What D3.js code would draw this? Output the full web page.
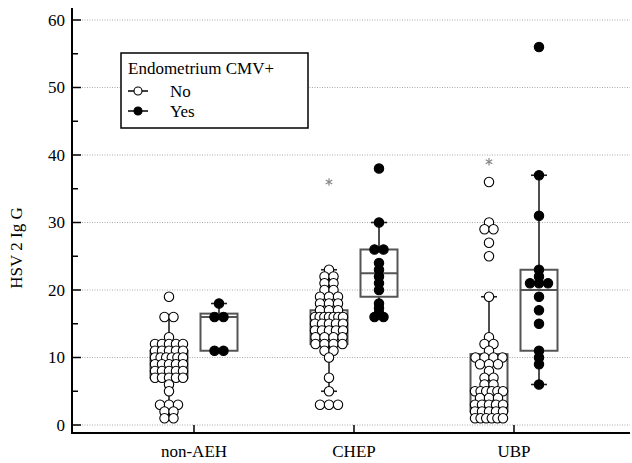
<!DOCTYPE html>
<html><head><meta charset="utf-8">
<script src="https://cdn.jsdelivr.net/npm/d3@7"></script>
<style>body{margin:0;background:#fff}</style>
</head><body><svg id="c" width="632" height="463" font-family="'Liberation Serif', 'DejaVu Serif', serif"></svg>
<script>
const categories = ["non-AEH","CHEP","UBP"];
const groups = ["No","Yes"];
const yTicks = [0,10,20,30,40,50,60];
const yMinorTicks = [5,15,25,35,45,55];
// dot values per box (order: non-AEH No, non-AEH Yes, CHEP No, CHEP Yes, UBP No, UBP Yes)
const nonAEH_No = [19,16,16,13,12,12,12,12,12,11,11,11,11,11,10,10,10,10,10,10,9,9,9,9,9,8,8,8,8,8,7,7,7,7,7,6,5,3,3,3,2,2,1,1];
const nonAEH_Yes = [18,16,16,11,11];
const CHEP_No = [23,22,22,21,21,20,20,19,19,19,18,18,18,17,17,17,16,16,16,16,16,16,16,15,15,15,15,15,14,14,14,14,14,13,13,13,13,12,12,12,12,11,11,10,7,5,3,3,3];
const CHEP_Yes = [38,30,26,26,24,23,22,21,20,18,17.3,16.6,16,16];
const UBP_No = [36,30,29,29,27,25,19,13,12,12,11,10,10,10,10,9,9,9,8,7,7,6,6,5,5,5,5,5,5,4,4,4,3,3,3,3,3,2,2,2,2,2,1,1,1,1,1,1];
const UBP_Yes = [56,37,31,23,22,21,21,21,19,17,15,11,10,9,6];
// box statistics
const boxQ1 =      [7, 11, 12, 19, 2, 11];
const boxMedian =  [9, 16, 15.2, 22.5, 5.3, 20];
const boxQ3 =      [11, 16.5, 17, 26, 10.5, 23];
const whiskerLow = [1, 11, 5, 16, 1, 6];
const whiskerHigh =[16, 18, 23, 30, 19, 37];
const extremes =   [null, null, 36, null, 39, null];

const dotSets = [nonAEH_No, nonAEH_Yes, CHEP_No, CHEP_Yes, UBP_No, UBP_Yes];
const series = [];
categories.forEach((c,ci)=>groups.forEach((g,gi)=>{
  const k = ci*2+gi;
  series.push({cat:c, grp:g, values:dotSets[k], q1:boxQ1[k], med:boxMedian[k], q3:boxQ3[k], lo:whiskerLow[k], hi:whiskerHigh[k], ext:extremes[k]});
}));

const FONT = "'Liberation Serif', 'DejaVu Serif', serif";
const svg = d3.select("#c");
const L = 72, R = 630, T = 8, B = 433;
const y = d3.scaleLinear().domain([0,60]).range([425,20]);
const x = d3.scaleBand().domain(categories).range([114,594]);
const xs = d3.scalePoint().domain(groups).range([-25,25]);
const cx = d => x(d.cat) + x.bandwidth()/2 + xs(d.grp);

// grid
svg.append("g").selectAll("line").data(yTicks).join("line")
  .attr("x1",L).attr("x2",R).attr("y1",d=>y(d)).attr("y2",d=>y(d))
  .attr("stroke","#aaa").attr("stroke-width",1).attr("stroke-dasharray","1,1.5");

// boxes
const bw = 37, cap = 16;
const gB = svg.append("g");
series.forEach(s=>{
  const c = cx(s);
  gB.append("line").attr("x1",c).attr("x2",c).attr("y1",y(s.q3)).attr("y2",y(s.hi)).attr("stroke","#222").attr("stroke-width",1.6);
  gB.append("line").attr("x1",c).attr("x2",c).attr("y1",y(s.q1)).attr("y2",y(s.lo)).attr("stroke","#222").attr("stroke-width",1.6);
  gB.append("line").attr("x1",c-cap/2).attr("x2",c+cap/2).attr("y1",y(s.hi)).attr("y2",y(s.hi)).attr("stroke","#222").attr("stroke-width",1.6);
  gB.append("line").attr("x1",c-cap/2).attr("x2",c+cap/2).attr("y1",y(s.lo)).attr("y2",y(s.lo)).attr("stroke","#222").attr("stroke-width",1.6);
  gB.append("rect").attr("x",c-bw/2).attr("y",y(s.q3)).attr("width",bw).attr("height",y(s.q1)-y(s.q3))
    .attr("fill","none").attr("stroke","#555").attr("stroke-width",2);
  gB.append("line").attr("x1",c-bw/2).attr("x2",c+bw/2).attr("y1",y(s.med)).attr("y2",y(s.med)).attr("stroke","#555").attr("stroke-width",2);
});

// dots (swarm rows)
const r = 4.7;
const gD = svg.append("g");
series.forEach(s=>{
  const c = cx(s);
  const rows = d3.group(s.values, v=>v);
  rows.forEach((vals,v)=>{
    const n = vals.length;
    const sp = n===1 ? 0 : Math.min(9, 28/(n-1));
    vals.forEach((_,i)=>{
      gD.append("circle").attr("cx", c + (i-(n-1)/2)*sp).attr("cy", y(v)).attr("r", r)
        .attr("fill", s.grp==="No" ? "#fff" : "#000").attr("stroke","#000").attr("stroke-width",1.1);
    });
  });
  if (s.ext!=null){
    const sym = d3.symbol().type(d3.symbolAsterisk).size(40);
    gD.append("path").attr("d", sym()).attr("transform",`translate(${c},${y(s.ext)})`)
      .attr("stroke","#888").attr("stroke-width",1.2).attr("fill","none");
  }
});

// axes
const gy = svg.append("g");
gy.append("line").attr("x1",L).attr("x2",L).attr("y1",T).attr("y2",B).attr("stroke","#000").attr("stroke-width",2);
gy.selectAll(".mj").data(yTicks).join("line").attr("x1",L).attr("x2",L+9).attr("y1",d=>y(d)).attr("y2",d=>y(d)).attr("stroke","#000").attr("stroke-width",1.5);
gy.selectAll(".mn").data(yMinorTicks).join("line").attr("x1",L).attr("x2",L+6).attr("y1",d=>y(d)).attr("y2",d=>y(d)).attr("stroke","#000").attr("stroke-width",1.5);
gy.selectAll("text").data(yTicks).join("text").attr("x",L-7).attr("y",d=>y(d)).attr("dy","0.35em")
  .attr("font-family",FONT).attr("text-anchor","end").attr("font-size",17).text(d=>d);

const gx = svg.append("g");
gx.append("line").attr("x1",L-1).attr("x2",R).attr("y1",B).attr("y2",B).attr("stroke","#000").attr("stroke-width",2);
gx.selectAll("line.t").data(categories).join("line").attr("class","t")
  .attr("x1",d=>x(d)+x.bandwidth()/2).attr("x2",d=>x(d)+x.bandwidth()/2).attr("y1",B).attr("y2",B-8).attr("stroke","#000").attr("stroke-width",1.5);
gx.selectAll("text").data(categories).join("text").attr("x",d=>x(d)+x.bandwidth()/2).attr("y",457)
  .attr("font-family",FONT).attr("text-anchor","middle").attr("font-size",17).text(d=>d);

svg.append("text").attr("transform","translate(22,248) rotate(-90)").attr("text-anchor","middle")
  .attr("font-family",FONT).attr("font-size",17).text("HSV 2 Ig G");

// legend
const lg = svg.append("g");
lg.append("rect").attr("x",121).attr("y",53).attr("width",187).attr("height",75).attr("fill","#fff").attr("stroke","#000").attr("stroke-width",1.5);
lg.append("text").attr("x",128).attr("y",74).attr("font-family",FONT).attr("font-size",17).text("Endometrium CMV+");
groups.forEach((g,i)=>{
  const yy = 91 + i*20;
  lg.append("line").attr("x1",128).attr("x2",148).attr("y1",yy).attr("y2",yy).attr("stroke","#000").attr("stroke-width",1.5);
  lg.append("circle").attr("cx",138).attr("cy",yy).attr("r",4).attr("fill",g==="No"?"#fff":"#000").attr("stroke","#000").attr("stroke-width",1.1);
  lg.append("text").attr("x",170).attr("y",yy).attr("dy","0.35em").attr("font-family",FONT).attr("font-size",17).text(g);
});
</script></body></html>
